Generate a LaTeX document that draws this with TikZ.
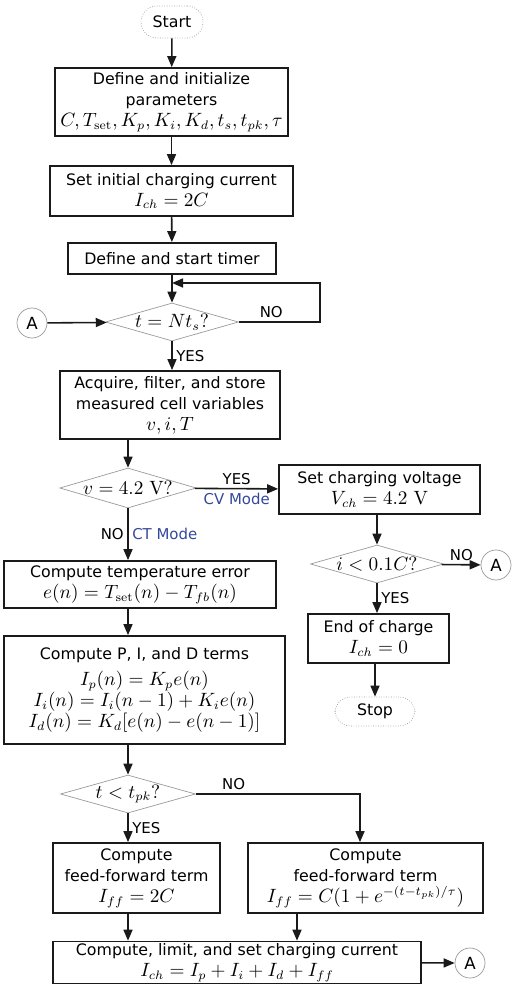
\documentclass[tikz,border=0pt]{standalone}
\usepackage[no-math]{fontspec}
\setmainfont{DejaVu Sans}
\usepackage{xcolor}
\definecolor{cLine}{HTML}{1A1A1A}
\definecolor{cFaint}{HTML}{9A9A9A}
\definecolor{cMode}{HTML}{34489A}
\usetikzlibrary{positioning,arrows.meta,shapes.geometric,calc}
\newcommand{\fm}[1]{{\fontsize{10.6}{12}\selectfont$#1$}}
\tikzset{
  node-box/.style={draw=cLine,line width=1pt,align=center,inner sep=1pt,
    font=\fontsize{9}{12}\selectfont},
  node-dec/.style={draw=cFaint,diamond,aspect=3.5,inner sep=0pt,
    font=\fontsize{9}{12}\selectfont},
  node-term/.style={draw=cFaint,densely dotted,rounded corners=9pt,
    font=\fontsize{9}{11}\selectfont},
  node-conn/.style={draw=cFaint,circle,minimum size=6mm,inner sep=0pt,
    font=\fontsize{9.5}{11}\selectfont},
  arrow/.style={-{Triangle[length=2.2mm,width=1.8mm]},line width=0.9pt,draw=cLine},
  lbl/.style={font=\fontsize{8.5}{10}\selectfont,inner sep=2pt},
  lbl-mode/.style={lbl,text=cMode},
}

\begin{document}
\begin{tikzpicture}[x=0.02cm,y=-0.02cm]
  \useasboundingbox (0,0) rectangle (512,989);
  % main column
  \node[node-term,minimum width=1.24cm,minimum height=0.64cm] (start) at (172,22) {Start};
  \node[node-box,minimum width=4.66cm,minimum height=1.36cm] (init) at (171.5,102)
    {Define and initialize\\parameters\\\fm{C, T_{\mathrm{set}}, K_p, K_i, K_d, t_s, t_{pk}, \tau}};
  \node[node-box,minimum width=4.86cm,minimum height=1.0cm] (setI) at (171.5,191)
    {Set initial charging current\\\fm{I_{ch} = 2C}};
  \node[node-box,minimum width=4.16cm,minimum height=0.62cm] (timer) at (172,258.5)
    {Define and start timer};
  \node[node-dec,minimum width=2.66cm,minimum height=0.76cm] (tick) at (172,322)
    {\fm{t = Nt_s?}};
  \node[node-conn] (A1) at (32,323) {A};
  \coordinate (back) at (172,283);
  \node[node-box,minimum width=4.4cm,minimum height=1.36cm] (acq) at (170,405)
    {Acquire, filter, and store\\measured cell variables\\\fm{v, i, T}};
  \node[node-dec,minimum width=2.7cm,minimum height=0.8cm] (volt) at (128,488)
    {\fm{v = 4.2\ \mathrm{V}?}};
  % CV branch
  \node[node-box,minimum width=4.02cm,minimum height=0.98cm] (setV) at (379.5,489.5)
    {Set charging voltage\\\fm{V_{ch} = 4.2\ \mathrm{V}}};
  \node[node-dec,minimum width=2.66cm,minimum height=0.76cm] (curr) at (377,564)
    {\fm{i < 0.1C?}};
  \node[node-conn] (A2) at (496,565) {A};
  \node[node-box,minimum width=2.82cm,minimum height=0.98cm] (eoc) at (378.5,638.5)
    {End of charge\\\fm{I_{ch} = 0}};
  \node[node-term,minimum width=1.6cm,minimum height=0.58cm] (stop) at (375,711.5) {Stop};
  % CT branch
  \node[node-box,minimum width=5.44cm,minimum height=0.94cm] (err) at (140,584.5)
    {Compute temperature error\\\fm{e(n) = T_{\mathrm{set}}(n) - T_{fb}(n)}};
  \node[node-box,minimum width=5.62cm,minimum height=2.16cm] (pid) at (144.5,690)
    {Compute P, I, and D terms\\[3pt]
     \fm{I_p(n) = K_p e(n)}\\
     \fm{I_i(n) = I_i(n-1) + K_i e(n)}\\
     \fm{I_d(n) = K_d[e(n) - e(n-1)]}};
  \node[node-dec,minimum width=2.7cm,minimum height=0.76cm] (peak) at (128,794)
    {\fm{t < t_{pk}?}};
  \node[node-box,minimum width=3.34cm,minimum height=1.4cm] (ffa) at (136.5,878)
    {Compute\\feed-forward term\\\fm{I_{ff} = 2C}};
  \node[node-box,minimum width=4.7cm,minimum height=1.4cm] (ffb) at (365.5,878)
    {Compute\\feed-forward term\\\fm{I_{ff} = C(1 + e^{-(t-t_{pk})/\tau})}};
  \node[node-box,minimum width=7.36cm,minimum height=0.82cm] (set) at (237,962.5)
    {Compute, limit, and set charging current\\\fm{I_{ch} = I_p + I_i + I_d + I_{ff}}};
  \node[node-conn] (A3) at (470,963) {A};

  \draw[arrow] (start) -- (init);
  \draw[arrow] (init) -- (setI);
  \draw[arrow] (setI) -- (timer);
  \draw[arrow] (timer) -- (tick);
  \draw[arrow] (A1) -- (tick);
  \draw[arrow] (tick.east) -- node[lbl,above,pos=0.4] {NO} ++(81,0) |- (back);
  \draw[arrow] (tick) -- node[lbl,right] {YES} (tick |- acq.north);
  \draw[arrow] (acq.south -| volt) -- (volt);
  \draw[arrow] (volt) -- node[lbl,above] {YES} node[lbl-mode,below] {CV Mode} (setV);
  \draw[arrow] (setV.south -| curr) -- (curr);
  \draw[arrow] (curr) -- node[lbl,above] {NO} (A2);
  \draw[arrow] (curr) -- node[lbl,right] {YES} (eoc.north -| curr);
  \draw[arrow] (eoc.south -| stop) -- (stop);
  \draw[arrow] (volt) -- node[lbl,left] {NO} node[lbl-mode,right] {CT Mode} (err.north -| volt);
  \draw[arrow] (err.south -| volt) -- (pid.north -| volt);
  \draw[arrow] (pid.south -| peak) -- (peak);
  \draw[arrow] (peak) -- node[lbl,right] {YES} (ffa.north -| peak);
  \draw[arrow] (peak.east) -- node[lbl,above,pos=0.23] {NO} (360,794) -- (ffb.north -| 360,794);
  \draw[arrow] (ffa.south -| peak) -- (set.north -| peak);
  \draw[arrow] (ffb.south -| 297,0) -- (set.north -| 297,0);
  \draw[arrow] (set) -- (A3);
\end{tikzpicture}
\end{document}
